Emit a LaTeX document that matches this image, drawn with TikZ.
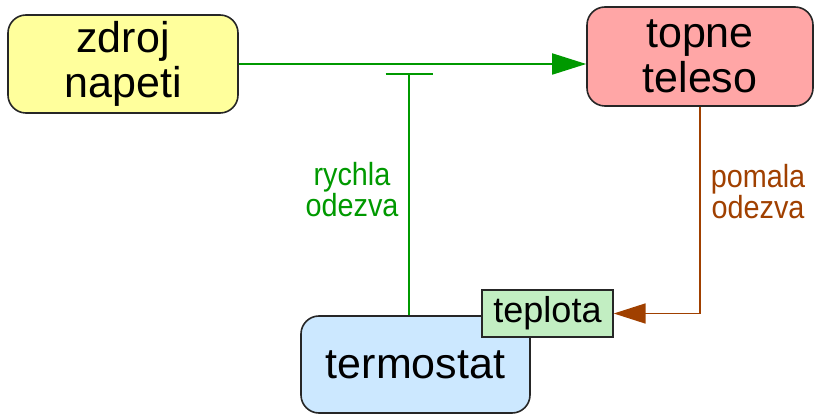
\documentclass[tikz,border=0pt]{standalone}
\usepackage{fontspec}
\setmainfont{Liberation Sans}
\newfontfamily\labfont[FakeStretch=0.9]{Liberation Sans}
\usetikzlibrary{arrows.meta,calc}
\definecolor{cyellow}{HTML}{FFFF9C}
\definecolor{cpink}{HTML}{FFA6A6}
\definecolor{cblue}{HTML}{CCE8FF}
\definecolor{cgreen}{HTML}{C2EEC2}
\definecolor{lgreen}{HTML}{009900}
\definecolor{lbrown}{HTML}{A04000}
\tikzset{
  box/.style={draw=black!85, line width=1.6pt, rounded corners=18pt, align=center,
    font=\fontsize{43}{45}\selectfont, inner sep=0pt},
  tagbox/.style={draw=black!85, line width=1.4pt, fill=cgreen, inner sep=0pt,
    font=\fontsize{36}{40}\selectfont},
  conn/.style={line width=1.8pt},
  lab/.style={align=center, font=\labfont\fontsize{32}{31}\selectfont},
}
\begin{document}
\begin{tikzpicture}[x=1pt,y=-1pt]
\useasboundingbox (0,0) rectangle (815,414);
\node[box, fill=cyellow, minimum width=230pt, minimum height=98pt] (zdroj) at (123,64) {zdroj\\napeti};
\node[box, fill=cpink, minimum width=226pt, minimum height=99pt] (topne) at (700,56.5) {topne\\teleso};
\node[box, fill=cblue, minimum width=229pt, minimum height=97pt] (term) at (415.5,364.5) {termostat};
\node[tagbox, minimum width=131pt, minimum height=47pt] (tep) at (547.5,313.5) {teplota};
\coordinate (inh) at (409,73);
\draw[conn, lgreen, -{Triangle[length=34pt,width=21pt]}] (zdroj.east) -- (zdroj.east -| topne.west);
\draw[conn, lgreen, -{Bar[width=47pt,line width=1.6pt]}] (term.north -| inh) -- (inh);
\draw[conn, lbrown, -{Triangle[length=32pt,width=20pt]}] (topne.south) |- (tep.east);
\node[lab, text=lgreen] (rl) at (352,190) {rychla\\odezva};
\node[lab, text=lbrown] (pl) at (758,192) {pomala\\odezva};
\end{tikzpicture}
\end{document}
